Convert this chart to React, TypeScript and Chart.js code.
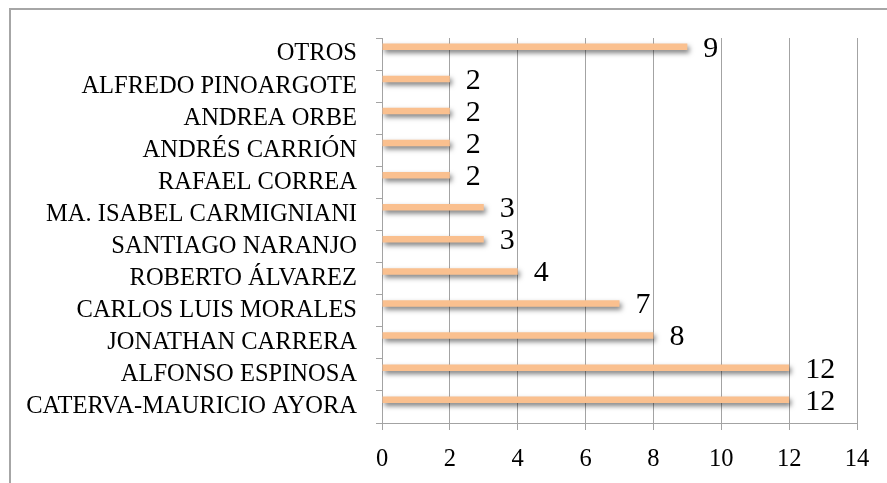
import { useEffect, useRef } from "react";
import { Chart, registerables } from "chart.js";

Chart.register(...registerables);

const categories = [
  "OTROS",
  "ALFREDO PINOARGOTE",
  "ANDREA ORBE",
  "ANDRÉS CARRIÓN",
  "RAFAEL CORREA",
  "MA. ISABEL CARMIGNIANI",
  "SANTIAGO NARANJO",
  "ROBERTO ÁLVAREZ",
  "CARLOS LUIS MORALES",
  "JONATHAN CARRERA",
  "ALFONSO ESPINOSA",
  "CATERVA-MAURICIO AYORA",
];
const values = [9, 2, 2, 2, 2, 3, 3, 4, 7, 8, 12, 12];
const emptySeries: (number | null)[] = [];
const xMin = 0;
const xMax = 14;
const xStep = 2;

const FONT = "'Liberation Serif', 'Times New Roman', serif";
const GRID = "#a3a3a3";

export default function App() {
  const ref = useRef<HTMLCanvasElement>(null);

  useEffect(() => {
    const canvas = ref.current;
    if (!canvas) return;

    const shadowPlugin = {
      id: "barShadow",
      beforeDatasetsDraw(chart: any) {
        const c = chart.ctx;
        c.save();
        c.shadowColor = "rgba(0,0,0,0.5)";
        c.shadowBlur = 5;
        c.shadowOffsetX = 2;
        c.shadowOffsetY = 3;
      },
      afterDatasetsDraw(chart: any) {
        chart.ctx.restore();
      },
    };

    const labelPlugin = {
      id: "valueLabels",
      afterDatasetsDraw(chart: any) {
        const c = chart.ctx;
        const meta = chart.getDatasetMeta(0);
        c.save();
        c.font = `30px ${FONT}`;
        c.fillStyle = "#000";
        c.textAlign = "left";
        c.textBaseline = "middle";
        meta.data.forEach((el: any, i: number) => {
          c.fillText(String(values[i]), el.x + 16, el.y + 2);
        });
        c.restore();
      },
    };

    const chart = new Chart(canvas, {
      type: "bar",
      data: {
        labels: categories,
        datasets: [
          {
            data: values,
            backgroundColor: "#FAC08F",
            borderWidth: 0,
            categoryPercentage: 0.9,
            barPercentage: 0.45,
          },
          {
            data: emptySeries,
            backgroundColor: "rgba(0,0,0,0)",
            borderWidth: 0,
            categoryPercentage: 0.9,
            barPercentage: 0.45,
          },
        ],
      },
      options: {
        indexAxis: "y",
        responsive: false,
        animation: false,
        devicePixelRatio: 1,
        layout: { padding: { top: 38, right: 30, bottom: 0, left: 0 } },
        plugins: {
          legend: { display: false },
          tooltip: { enabled: false },
        },
        scales: {
          y: {
            type: "category",
            offset: true,
            grid: {
              offset: true,
              drawOnChartArea: false,
              drawTicks: true,
              tickLength: 6,
              color: GRID,
              lineWidth: 1,
            },
            border: { color: GRID, width: 1 },
            ticks: {
              color: "#000",
              font: { family: FONT, size: 24.5 },
              padding: 19,
              autoSkip: false,
            },
            afterFit: (s: any) => {
              s.width = 382;
            },
          },
          x: {
            type: "linear",
            min: xMin,
            max: xMax,
            grid: {
              color: GRID,
              lineWidth: 1,
              tickLength: 7,
            },
            border: { color: GRID, width: 1 },
            ticks: {
              stepSize: xStep,
              color: "#000",
              font: { family: FONT, size: 24.5 },
              padding: 15,
            },
            afterFit: (s: any) => {
              s.height = 60;
            },
          },
        },
      },
      plugins: [shadowPlugin, labelPlugin],
    });

    return () => chart.destroy();
  }, []);

  return (
    <>
      <div
        style={{
          position: "fixed",
          left: 9,
          top: 8,
          right: 0,
          bottom: 0,
          borderTop: "2px solid #a6a6a6",
          borderLeft: "2px solid #a6a6a6",
        }}
      />
      <canvas
        ref={ref}
        width={887}
        height={483}
        style={{ position: "fixed", left: 0, top: 0, width: 887, height: 483 }}
      />
    </>
  );
}
